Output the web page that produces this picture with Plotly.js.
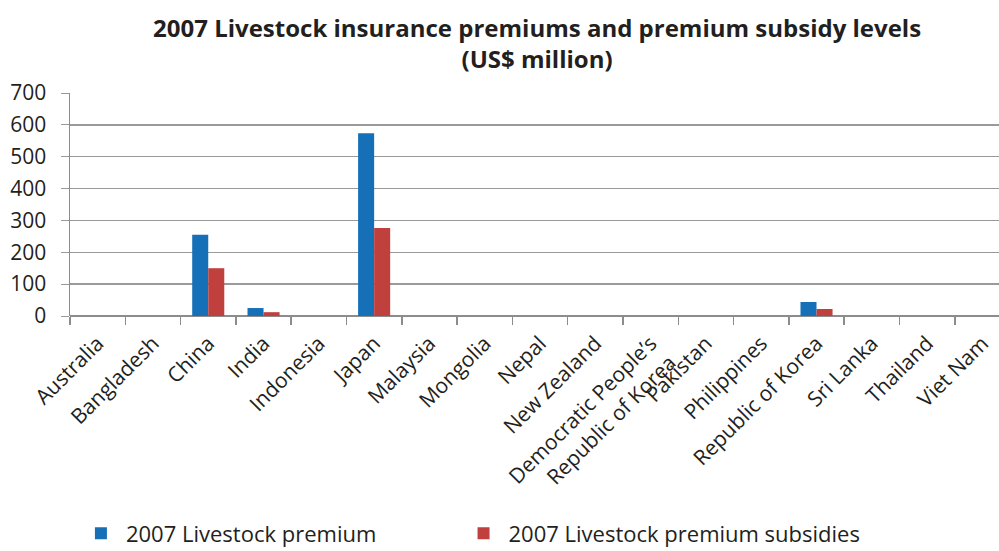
<!DOCTYPE html>
<html>
<head>
<meta charset="utf-8">
<script src="https://cdn.plot.ly/plotly-3.0.1.min.js"></script>
<style>html,body{margin:0;padding:0;background:#fff;}#chart{width:999px;height:551px;}</style>
</head>
<body>
<div id="chart"></div>
<script>
const categories = ["Australia","Bangladesh","China","India","Indonesia","Japan","Malaysia","Mongolia","Nepal","New Zealand","Democratic People’s<br>Republic of Korea","Pakistan","Philippines","Republic of Korea","Sri Lanka","Thailand","Viet Nam"];
const premium =   [0, 0, 255, 25, 0, 574, 0, 0, 0, 0, 0, 0, 0, 44, 0, 0, 0];
const subsidies = [0, 0, 150, 12, 0, 276, 0, 0, 0, 0, 0, 0, 0, 22, 0, 0, 0];
const seriesNames = ["2007 Livestock premium", "2007 Livestock premium subsidies"];
const yTicks = [0, 100, 200, 300, 400, 500, 600, 700];
const titleText = "<b>2007 Livestock insurance premiums and premium subsidy levels<br>(US$ million)</b>";

const font = "Open Sans, Noto Sans, sans-serif";
const ink = "#231f20";
const data = [
  {type: "bar", x: categories, y: premium, name: seriesNames[0], marker: {color: "#1570b8"}, legend: "legend"},
  {type: "bar", x: categories, y: subsidies, name: seriesNames[1], marker: {color: "#c0403d"}, legend: "legend2"}
];
const legendBase = {orientation: "h", xref: "container", yref: "container", xanchor: "left", y: 0.032, yanchor: "middle",
                    itemwidth: 40, bgcolor: "rgba(0,0,0,0)", font: {size: 22, family: font, color: ink}};
const layout = {
  width: 999, height: 551,
  margin: {l: 70, r: 0, t: 93, b: 235},
  paper_bgcolor: "#fff", plot_bgcolor: "#fff",
  font: {family: font, color: ink},
  annotations: [{text: titleText, xref: "paper", yref: "paper", x: 0.503, y: 1.222, xanchor: "center", yanchor: "middle",
                 showarrow: false, font: {size: 24, family: font, color: ink}}],
  barmode: "group", bargap: 0.42, bargroupgap: 0,
  xaxis: {type: "category", range: [-0.5, 16.3], tickangle: -45, tickfont: {size: 21, color: ink},
          showline: false, ticks: "outside", ticklen: 8, tickcolor: "#8c8c8c", tickwidth: 1.5,
          ticklabelstandoff: 10,
          tickson: "boundaries", showgrid: false, zeroline: false, automargin: false},
  yaxis: {range: [0, 700], tickvals: yTicks, tickfont: {size: 21, color: ink}, showgrid: true, gridcolor: "#9a9a9a", gridwidth: 1.5,
          showline: true, linecolor: "#8c8c8c", linewidth: 1.5, ticks: "outside", ticklen: 8, tickcolor: "#9a9a9a",
          ticklabelstandoff: 10,
          zeroline: true, zerolinecolor: "#8c8c8c", zerolinewidth: 1.5, automargin: false},
  showlegend: true,
  legend: Object.assign({}, legendBase, {x: 0.076}),
  legend2: Object.assign({}, legendBase, {x: 0.459})
};
Plotly.newPlot("chart", data, layout, {displayModeBar: false, staticPlot: true});
</script>
</body>
</html>
